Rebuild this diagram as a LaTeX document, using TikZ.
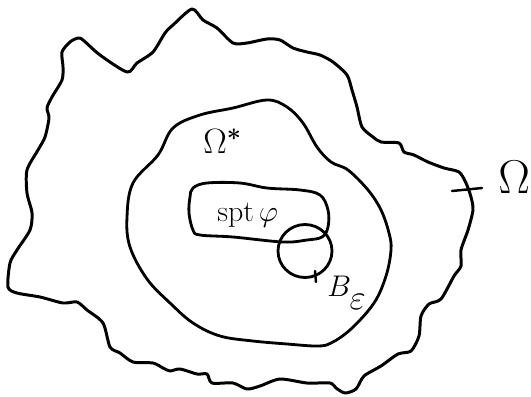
\documentclass[tikz,border=0pt]{standalone}
\usepackage{fix-cm}
\usepackage{amsmath}
\usetikzlibrary{positioning}

\begin{document}
\begin{tikzpicture}[
        x=0.02cm, y=-0.02cm,
        boundary/.style={line width=1.7pt, line join=round, line cap=round},
        inner/.style={line width=1.6pt, line join=round},
        tick/.style={line width=1.4pt, line cap=round},
        tag/.style={inner sep=0pt, anchor=base west}
    ]
        \useasboundingbox (0,0) rectangle (531,396);

        \draw[boundary] plot[smooth cycle, tension=0.45] coordinates {
            (192,9) (203,20) (217,28) (233,43) (247,43) (267,39) (280,40) (293,48)
            (307,52) (320,55) (333,62) (347,75) (352,90) (357,107) (362,127) (373,137)
            (381,142) (399,143) (404,152) (414,155) (428,162) (444,168) (459,172) (466,183)
            (471,197) (473,210) (468,230) (461,250) (461,266) (454,276) (441,299) (429,304)
            (421,316) (419,336) (411,351) (398,354) (381,366) (364,376) (356,389) (345,393)
            (336,388) (330,383) (307,383) (280,379) (260,386) (247,389) (233,383) (212,383)
            (207,374) (197,374) (180,369) (170,371) (163,368) (153,363) (133,362) (120,353)
            (110,347) (103,323) (87,310) (77,302) (63,303) (40,297) (17,293) (8,287)
            (10,263) (17,250) (30,230) (32,213) (27,193) (27,170) (38,150) (45,137)
            (49,118) (47,108) (52,97) (62,80) (63,67) (62,52) (70,42) (78,38)
            (83,40) (100,55) (127,72) (137,63) (153,52) (165,33) (173,25)};

        \draw[inner] plot[smooth cycle, tension=0.6] coordinates {
            (173,128) (200,115) (233,108) (267,100) (287,107) (303,123) (317,147) (331,162)
            (348,170) (368,190) (381,210) (389,233) (391,250) (386,276) (374,303) (351,329)
            (331,343) (317,346) (287,344) (253,341) (220,336) (193,323) (170,303) (147,279)
            (130,247) (127,217) (133,183) (158,155)};

        \draw[inner] plot[smooth cycle, tension=0.6] coordinates {
            (190,197) (189,213) (193,230) (200,235) (233,237) (283,242) (307,240) (322,237)
            (328,227) (328,210) (320,195) (300,190) (267,188) (240,183) (207,183) (193,188)};

        \draw[inner] (305,251) ellipse [x radius=27, y radius=26.5];

        \node[tag, font=\fontsize{20}{24}\selectfont] (omstar) at (203,153) {$\Omega^{\boldsymbol{*}}$};
        \node[tag, font=\fontsize{27}{32}\selectfont] (omega) at (498,193) {$\Omega$};
        \node[tag, font=\fontsize{17}{20}\selectfont] (spt) at (217,221) {$\mathrm{spt}\,\varphi$};
        \node[tag, font=\fontsize{17}{20}\selectfont] (ball) at (327,296)
            {$B_{\lower 5pt\hbox{\fontsize{20}{22}\selectfont$\varepsilon$}}$};

        \coordinate (omtickA) at (452,191);
        \coordinate (omtickB) at (482,188);
        \coordinate (balltickA) at (315,271);
        \coordinate (balltickB) at (316,282);
        \draw[tick] (omtickA) -- (omtickB);
        \draw[tick] (balltickA) -- (balltickB);
    \end{tikzpicture}
\end{document}
